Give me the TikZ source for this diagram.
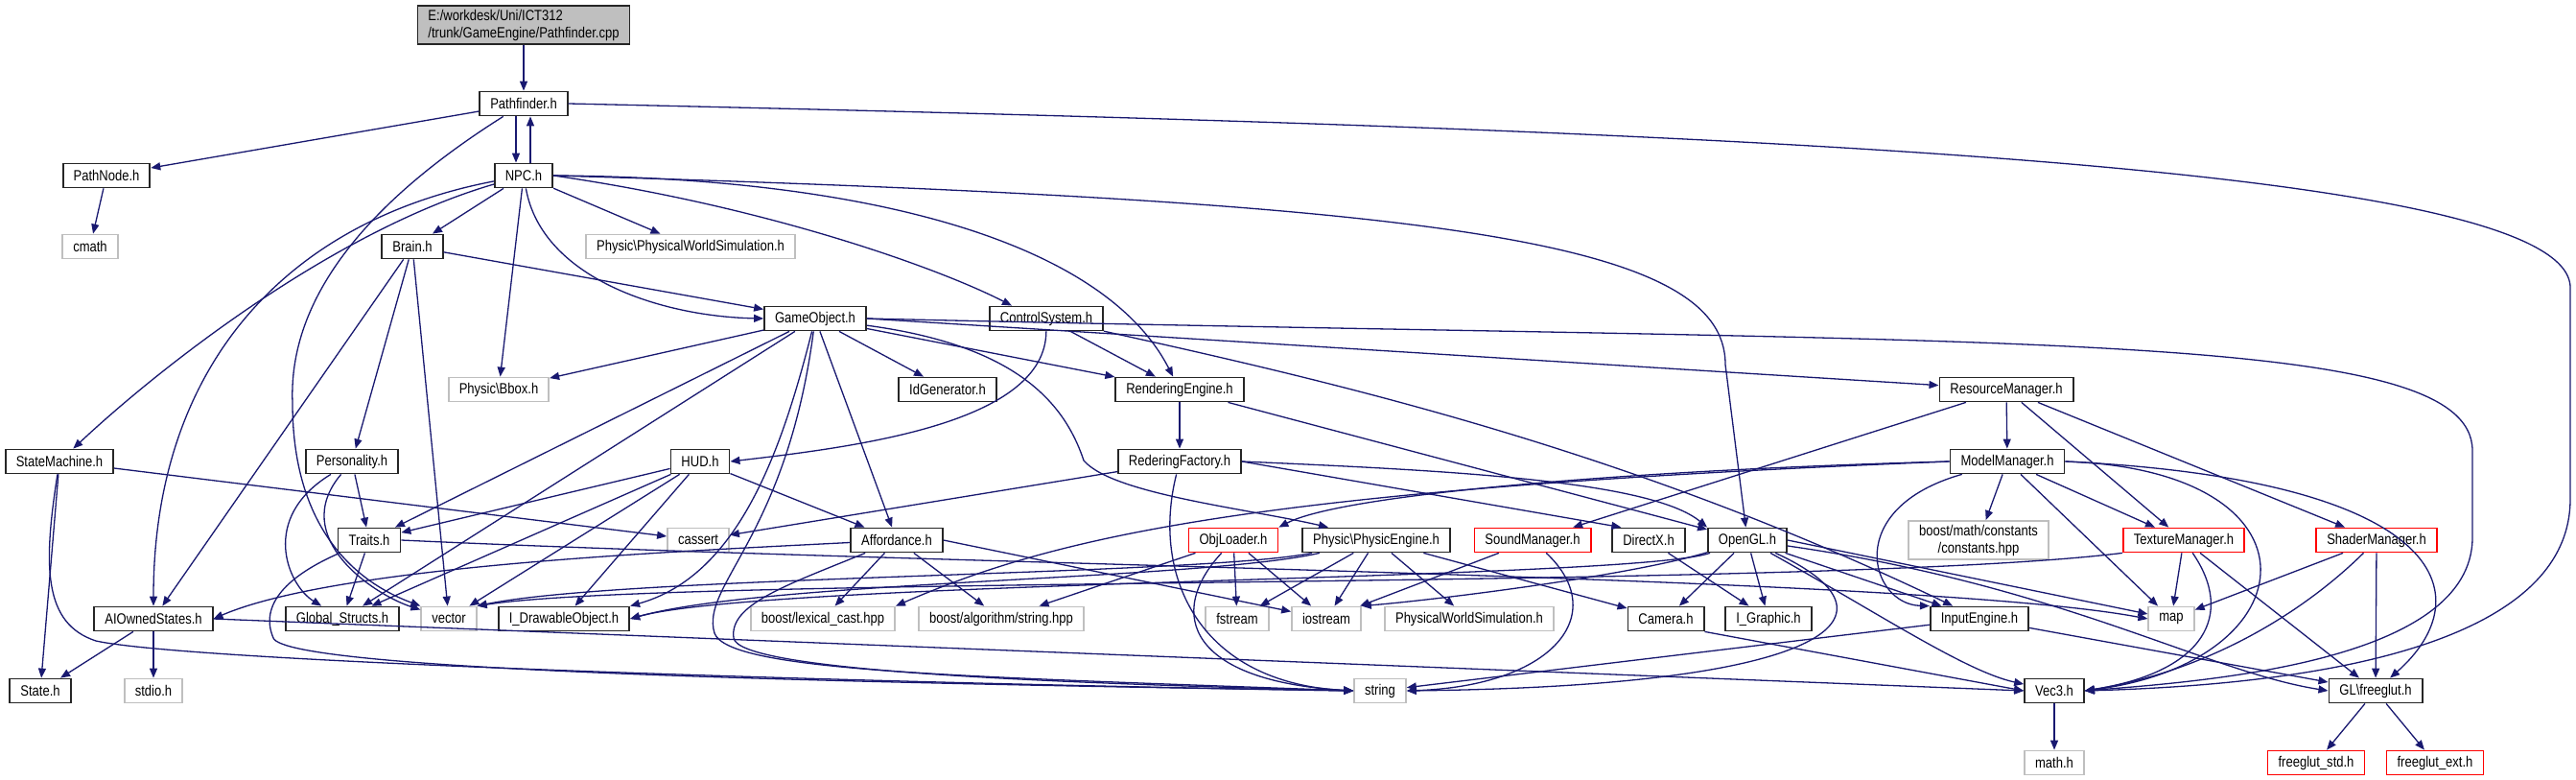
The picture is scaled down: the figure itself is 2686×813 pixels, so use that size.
\documentclass[tikz,border=0pt]{standalone}
\usepackage{fontspec}
\setmainfont{Liberation Sans}[FakeStretch=0.84]
\usetikzlibrary{arrows.meta}
\definecolor{edgeblue}{HTML}{191970}
\tikzset{
  hdr/.style={draw=black!85, line width=0.9pt, fill=white, minimum height=12.5pt, inner xsep=5.5pt, inner ysep=0pt, font=\fontsize{7.75}{9}\selectfont},
  sys/.style={hdr, draw=gray!50},
  trunc/.style={hdr, draw=red},
  cur/.style={hdr, fill=gray!50, align=left, minimum height=20pt},
  dep/.style={draw=edgeblue, line width=0.65pt, -{Triangle[length=5pt,width=4pt]}}
}

\begin{document}
\begin{tikzpicture}[x=0.5pt, y=-0.5pt]
  \fill[white] (0,0) rectangle (2686,813);
  \useasboundingbox (0,0) rectangle (2686,813);

  % rows of the include graph
  \node[cur] (root) at (546,26) {E:/workdesk/Uni/ICT312\\/trunk/GameEngine/Pathfinder.cpp};
  \node[hdr] (pathfinder) at (546,108) {Pathfinder.h};
  \node[hdr] (pathnode) at (111,183) {PathNode.h};
  \node[hdr] (npc) at (546,183) {NPC.h};
  \node[sys] (cmath) at (94,257) {cmath};
  \node[hdr] (brain) at (430,257) {Brain.h};
  \node[sys] (physws) at (720,257) {Physic\textbackslash PhysicalWorldSimulation.h};
  \node[hdr] (gameobject) at (850,332) {GameObject.h};
  \node[hdr] (controlsys) at (1091,332) {ControlSystem.h};
  \node[sys] (bbox) at (520,406) {Physic\textbackslash Bbox.h};
  \node[hdr] (idgen) at (988,406) {IdGenerator.h};
  \node[hdr] (rendereng) at (1230,406) {RenderingEngine.h};
  \node[hdr] (resmgr) at (2092,406) {ResourceManager.h};
  \node[hdr] (statemach) at (62,481) {StateMachine.h};
  \node[hdr] (personality) at (367,481) {Personality.h};
  \node[hdr] (hud) at (730,481) {HUD.h};
  \node[hdr] (rendfact) at (1230,481) {RederingFactory.h};
  \node[hdr] (modelmgr) at (2093,481) {ModelManager.h};
  \node[hdr] (traits) at (385,563) {Traits.h};
  \node[sys] (cassert) at (728,563) {cassert};
  \node[hdr] (affordance) at (935,563) {Affordance.h};
  \node[trunc] (objloader) at (1286,563) {ObjLoader.h};
  \node[hdr] (physeng) at (1435,563) {Physic\textbackslash PhysicEngine.h};
  \node[trunc] (soundmgr) at (1598,563) {SoundManager.h};
  \node[hdr] (directx) at (1719,563) {DirectX.h};
  \node[hdr] (opengl) at (1822,563) {OpenGL.h};
  \node[sys, align=center, minimum height=20pt] (boostmath) at (2063,563) {boost/math/constants\\/constants.hpp};
  \node[trunc] (texturemgr) at (2277,563) {TextureManager.h};
  \node[trunc] (shadermgr) at (2478,563) {ShaderManager.h};
  \node[hdr] (aiowned) at (160,645) {AIOwnedStates.h};
  \node[hdr] (globalstr) at (357,645) {Global\_Structs.h};
  \node[sys] (vector) at (468,645) {vector};
  \node[hdr] (idrawable) at (588,645) {I\_DrawableObject.h};
  \node[sys] (boostlex) at (858,645) {boost/lexical\_cast.hpp};
  \node[sys] (boostalg) at (1044,645) {boost/algorithm/string.hpp};
  \node[sys] (fstream) at (1290,645) {fstream};
  \node[sys] (iostream) at (1383,645) {iostream};
  \node[sys] (pws) at (1532,645) {PhysicalWorldSimulation.h};
  \node[hdr] (camera) at (1737,645) {Camera.h};
  \node[hdr] (igraphic) at (1844,645) {I\_Graphic.h};
  \node[hdr] (inputeng) at (2064,645) {InputEngine.h};
  \node[sys] (map) at (2264,645) {map};
  \node[hdr] (state) at (42,720) {State.h};
  \node[sys] (stdio) at (160,720) {stdio.h};
  \node[sys] (string) at (1439,720) {string};
  \node[hdr] (vec3) at (2142,720) {Vec3.h};
  \node[hdr] (freeglut) at (2477,720) {GL\textbackslash freeglut.h};
  \node[sys] (mathh) at (2142,795) {math.h};
  \node[trunc] (fgstd) at (2415,795) {freeglut\_std.h};
  \node[trunc] (fgext) at (2539,795) {freeglut\_ext.h};

  % Pathfinder.cpp / Pathfinder.h / NPC.h
  \draw[dep] (root) -- (pathfinder);
  \draw[dep] (pathfinder) -- (pathnode);
  \draw[dep] ([xshift=-4pt]pathfinder.south) -- ([xshift=-4pt]npc.north);
  \draw[dep] ([xshift=3.5pt]npc.north) -- ([xshift=3.5pt]pathfinder.south);
  \draw[dep] (pathfinder) .. controls (400,200) and (300,300) .. (305,420) .. controls (305,560) and (380,610) .. (vector.north west);
  \draw[dep] (pathfinder.east) .. controls (1800,135) and (2680,170) .. (2680,300) -- (2680,520) .. controls (2680,690) and (2350,715) .. (vec3.east);
  \draw[dep] (pathnode) -- (cmath);
  \draw[dep] (npc) -- (brain);
  \draw[dep] (npc) -- (bbox);
  \draw[dep] (npc) -- (physws);
  \draw[dep] (npc) .. controls (565,290) and (690,330) .. (gameobject.west);
  \draw[dep] (npc.east) .. controls (800,215) and (980,280) .. ([xshift=-18pt]controlsys.north);
  \draw[dep] (npc.east) .. controls (900,185) and (1150,250) .. (rendereng);
  \draw[dep] (npc.east) .. controls (1500,210) and (1799,250) .. (1799,380) -- (opengl);
  \draw[dep] (npc) .. controls (350,240) and (170,380) .. (statemach);
  \draw[dep] (npc) .. controls (300,230) and (160,380) .. (aiowned);

  % Brain.h / GameObject.h / ControlSystem.h
  \draw[dep] (brain) -- (gameobject);
  \draw[dep] (brain) -- (personality);
  \draw[dep] (brain) -- (aiowned);
  \draw[dep] (brain) -- (vector);
  \draw[dep] (gameobject) -- (bbox);
  \draw[dep] (gameobject) -- (traits);
  \draw[dep] (gameobject) -- (globalstr);
  \draw[dep] (gameobject) -- (idgen);
  \draw[dep] (gameobject) -- (rendereng);
  \draw[dep] (gameobject) -- (affordance);
  \draw[dep] (gameobject.east) -- (resmgr);
  \draw[dep] (gameobject) .. controls (815,470) and (770,600) .. (idrawable.north east);
  \draw[dep] (gameobject) .. controls (820,560) and (730,610) .. (745,660) .. controls (760,700) and (1000,705) .. (string.west);
  \draw[dep] (gameobject) .. controls (1060,360) and (1110,420) .. (1130,480) .. controls (1160,515) and (1300,530) .. ([xshift=-25pt]physeng.north);
  \draw[dep] (gameobject.east) .. controls (2100,360) and (2578,340) .. (2578,470) -- (2578,560) .. controls (2578,690) and (2300,710) .. (vec3.east);
  \draw[dep] (controlsys) .. controls (1090,440) and (900,465) .. (hud.east);
  \draw[dep] (controlsys) -- (rendereng);
  \draw[dep] (controlsys) .. controls (1400,400) and (1700,470) .. (inputeng);

  % RenderingEngine.h / ResourceManager.h
  \draw[dep] (rendereng) -- (rendfact);
  \draw[dep] (rendereng) -- (opengl);
  \draw[dep] (resmgr) -- (modelmgr);
  \draw[dep] (resmgr) -- (texturemgr);
  \draw[dep] (resmgr) -- (shadermgr);
  \draw[dep] (resmgr) -- (soundmgr);

  % third row of headers
  \draw[dep] (statemach) -- (state);
  \draw[dep] (statemach) -- (cassert);
  \draw[dep] (statemach) .. controls (45,590) and (45,650) .. (100,668) .. controls (200,690) and (900,712) .. (string.west);
  \draw[dep] (personality) -- (traits);
  \draw[dep] (personality) .. controls (270,540) and (300,610) .. (globalstr);
  \draw[dep] (personality) .. controls (300,560) and (390,620) .. (vector);
  \draw[dep] (hud) -- (traits);
  \draw[dep] (hud) -- (globalstr);
  \draw[dep] (hud) -- (vector);
  \draw[dep] (hud) -- (idrawable);
  \draw[dep] (hud) -- (affordance);
  \draw[dep] (rendfact) -- (cassert);
  \draw[dep] (rendfact.east) .. controls (1500,490) and (1720,500) .. (opengl.north west);
  \draw[dep] (rendfact.east) -- ([xshift=5pt]directx.north west);
  \draw[dep] (rendfact) .. controls (1200,600) and (1250,712) .. (string.west);
  \draw[dep] (modelmgr) -- (boostmath);
  \draw[dep] (modelmgr) -- (texturemgr);
  \draw[dep] (modelmgr) -- (map);
  \draw[dep] (modelmgr.west) .. controls (1700,490) and (1400,515) .. (objloader.north east);
  \draw[dep] (modelmgr.west) .. controls (1300,510) and (1100,560) .. (boostlex.north east);
  \draw[dep] (modelmgr) .. controls (1920,530) and (1950,630) .. (inputeng.north west);
  \draw[dep] (modelmgr.east) .. controls (2430,490) and (2410,690) .. (vec3.east);
  \draw[dep] (modelmgr.east) .. controls (2550,500) and (2590,620) .. (freeglut);

  % fourth row of headers
  \draw[dep] (traits) -- (globalstr);
  \draw[dep] (traits) .. controls (300,600) and (270,630) .. (285,665) .. controls (300,700) and (900,712) .. (string.west);
  \draw[dep] (traits.east) .. controls (1000,590) and (2000,600) .. (map.west);
  \draw[dep] (affordance) .. controls (700,575) and (350,590) .. (aiowned.east);
  \draw[dep] (affordance) .. controls (820,610) and (760,630) .. (765,665) .. controls (770,700) and (1100,712) .. (string.west);
  \draw[dep] (affordance) -- (boostlex);
  \draw[dep] (affordance) -- (boostalg);
  \draw[dep] (affordance.east) -- (iostream);
  \draw[dep] (objloader) -- (boostalg);
  \draw[dep] (objloader) .. controls (1215,640) and (1240,710) .. (string.west);
  \draw[dep] (objloader) -- (fstream);
  \draw[dep] (objloader) -- (iostream);
  \draw[dep] (physeng) -- (fstream);
  \draw[dep] (physeng) -- (iostream);
  \draw[dep] (physeng) -- (pws);
  \draw[dep] (physeng) -- (camera);
  \draw[dep] (physeng) .. controls (1250,605) and (800,605) .. (idrawable.east);
  \draw[dep] (physeng) .. controls (1250,600) and (650,600) .. (vector.north east);
  \draw[dep] (soundmgr) -- (iostream);
  \draw[dep] (soundmgr) .. controls (1680,640) and (1620,715) .. (string.east);
  \draw[dep] (directx) -- (igraphic);
  \draw[dep] (opengl) -- (camera);
  \draw[dep] (opengl) -- (igraphic);
  \draw[dep] (opengl) -- (inputeng);
  \draw[dep] (opengl.east) -- (map);
  \draw[dep] (opengl) .. controls (2150,610) and (2300,700) .. (freeglut.west);
  \draw[dep] (opengl) .. controls (1960,640) and (2050,700) .. (vec3);
  \draw[dep] (opengl) .. controls (1990,640) and (1920,715) .. (string.east);
  \draw[dep] (opengl) .. controls (1700,600) and (1500,625) .. (iostream.north east);
  \draw[dep] (opengl) .. controls (1700,605) and (800,605) .. (idrawable.east);
  \draw[dep] (texturemgr) -- (map);
  \draw[dep] (texturemgr) -- (freeglut);
  \draw[dep] (texturemgr) .. controls (2330,640) and (2300,700) .. (vec3.east);
  \draw[dep] (texturemgr.south west) .. controls (1900,615) and (700,600) .. (vector.north east);
  \draw[dep] (shadermgr) -- (map);
  \draw[dep] (shadermgr) -- (freeglut);
  \draw[dep] (shadermgr) .. controls (2400,640) and (2300,700) .. (vec3.east);

  % bottom rows
  \draw[dep] (aiowned) -- (state);
  \draw[dep] (aiowned) -- (stdio);
  \draw[dep] (aiowned.east) -- (vec3.west);
  \draw[dep] (inputeng) -- (string);
  \draw[dep] (inputeng) -- (freeglut);
  \draw[dep] (camera.south east) -- (vec3.west);
  \draw[dep] (vec3) -- (mathh);
  \draw[dep] (freeglut) -- (fgstd);
  \draw[dep] (freeglut) -- (fgext);
\end{tikzpicture}
\end{document}
